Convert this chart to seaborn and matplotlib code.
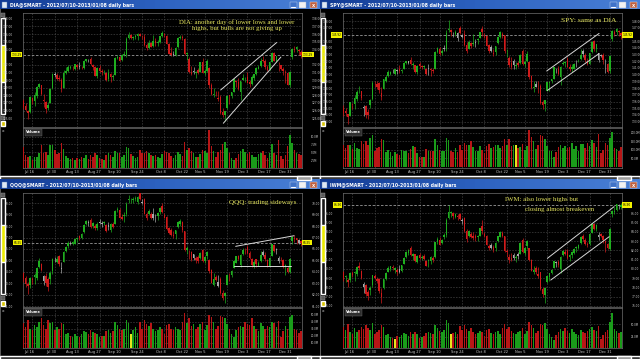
import numpy as np
import pandas as pd
import matplotlib
matplotlib.use("Agg")
import matplotlib.pyplot as plt
import seaborn as sns
from matplotlib.patches import Rectangle
from matplotlib.colors import LinearSegmentedColormap
from matplotlib.transforms import blended_transform_factory as blend

# ---------------- data (daily bars, 2012-07-10 .. 2013-01-08) ----------------
date_labels = ["Jul 16", "Jul 30", "Aug 13", "Aug 27", "Sep 10", "Sep 24", "Oct 8",
               "Oct 22", "Nov 5", "Nov 19", "Dec 3", "Dec 17", "Dec 31"]
date_index = [4, 14, 24, 34, 43, 53, 63, 73, 81, 91, 100, 110, 119]

dia_open = [127.2, 126.6, 125.9, 125.8, 127.6, 127.3, 127.9, 129.1, 129.3, 127.4,
            127.1, 126.3, 127.0, 128.9, 130.7, 130.6, 130.2, 130.0, 129.0, 130.9,
            131.2, 131.6, 131.7, 131.5, 132.0, 131.8, 131.7, 131.6, 132.5, 132.7,
            132.8, 132.0, 131.7, 130.5, 131.6, 131.2, 131.0, 130.9, 130.1, 130.8,
            130.4, 130.6, 132.9, 133.0, 132.6, 133.3, 133.3, 135.5, 135.9, 135.5,
            135.6, 135.7, 136.0, 135.6, 135.6, 134.6, 134.2, 134.8, 134.4, 135.1,
            134.8, 135.0, 135.8, 136.0, 135.8, 134.7, 133.5, 133.3, 133.3, 134.3,
            135.5, 135.5, 135.4, 133.4, 132.8, 131.1, 131.2, 130.9, 131.3, 131.1,
            132.4, 130.9, 131.2, 131.6, 129.3, 128.1, 128.2, 127.6, 127.8, 125.8,
            125.4, 126.3, 127.9, 127.9, 128.4, 129.9, 129.7, 128.4, 130.0, 130.2,
            130.4, 129.7, 129.5, 130.2, 130.8, 131.5, 131.8, 132.6, 132.5, 131.7,
            131.4, 132.4, 133.5, 132.5, 132.0, 131.9, 131.5, 131.1, 130.9, 129.3,
            133.0, 134.1, 134.0, 133.9, 133.7]
dia_high = [127.5, 127.0, 126.1, 127.9, 127.8, 128.4, 129.2, 129.6, 129.4, 128.2,
            127.2, 127.1, 129.0, 130.9, 131.0, 130.9, 130.7, 130.3, 131.3, 131.7,
            132.0, 131.9, 131.8, 132.1, 132.1, 132.3, 131.8, 132.6, 132.8, 132.8,
            133.0, 132.1, 131.8, 131.7, 131.9, 131.4, 131.3, 131.0, 131.4, 130.9,
            130.8, 133.0, 133.3, 133.2, 133.4, 133.8, 135.6, 136.3, 136.0, 135.8,
            136.0, 136.1, 136.2, 135.9, 136.0, 134.8, 135.2, 135.0, 135.9, 135.5,
            135.2, 135.8, 136.4, 136.1, 135.9, 134.8, 134.3, 133.8, 134.3, 135.6,
            135.9, 135.9, 135.5, 133.6, 133.0, 131.8, 131.7, 131.2, 131.6, 132.4,
            132.9, 131.4, 132.7, 131.7, 129.6, 128.9, 128.6, 128.6, 128.1, 126.3,
            126.0, 128.0, 128.0, 128.5, 130.1, 130.0, 130.2, 129.9, 130.8, 130.4,
            131.0, 130.0, 130.6, 130.8, 131.7, 131.9, 132.9, 133.1, 132.7, 131.9,
            132.4, 133.7, 133.6, 133.2, 132.4, 132.0, 131.7, 131.3, 131.0, 131.2,
            134.2, 134.4, 134.4, 134.1, 133.9]
dia_low = [126.2, 125.9, 124.9, 125.7, 126.9, 126.6, 127.7, 128.9, 128.1, 126.5,
           125.7, 126.1, 127.0, 128.8, 130.4, 130.0, 129.9, 128.4, 129.0, 130.8,
           131.1, 131.4, 131.3, 131.3, 131.4, 131.4, 131.4, 131.5, 132.4, 132.3,
           131.9, 131.3, 130.5, 130.3, 131.1, 130.6, 130.8, 129.9, 129.9, 129.8,
           130.0, 130.6, 132.7, 132.5, 132.5, 133.1, 133.0, 135.4, 135.3, 135.2,
           135.4, 135.2, 135.7, 135.3, 134.5, 133.9, 134.1, 134.3, 134.3, 134.4,
           134.5, 134.9, 135.6, 135.6, 134.7, 133.4, 133.2, 133.1, 133.1, 134.2,
           135.3, 135.2, 133.3, 132.6, 130.9, 130.7, 130.8, 130.2, 130.8, 131.0,
           130.9, 130.6, 131.1, 128.9, 128.1, 127.8, 127.9, 127.3, 125.6, 125.2,
           124.6, 126.2, 126.9, 127.7, 128.4, 129.1, 128.7, 127.4, 130.0, 129.7,
           129.6, 129.1, 129.3, 130.0, 130.7, 131.4, 131.7, 132.3, 131.4, 131.2,
           131.3, 132.3, 132.5, 132.3, 131.2, 131.3, 130.7, 129.6, 129.3, 129.1,
           132.8, 133.6, 133.6, 133.3, 132.9]
dia_close = [126.53, 126.04, 125.73, 127.77, 127.27, 128.06, 129.08, 129.43, 128.23, 127.21,
             126.18, 126.76, 128.87, 130.75, 130.73, 130.09, 130.08, 128.78, 130.96, 131.18,
             131.69, 131.75, 131.65, 132.07, 131.69, 131.72, 131.64, 132.50, 132.75, 132.71,
             132.03, 131.72, 130.57, 131.57, 131.24, 131.02, 131.07, 130.00, 130.90, 130.35,
             130.47, 132.92, 133.06, 132.54, 133.23, 133.33, 135.39, 135.93, 135.53, 135.65,
             135.77, 135.96, 135.79, 135.58, 134.57, 134.13, 134.85, 134.37, 135.15, 134.82,
             134.95, 135.75, 136.10, 135.83, 134.73, 133.45, 133.26, 133.29, 134.24, 135.51,
             135.57, 135.48, 133.44, 133.46, 131.03, 130.78, 131.04, 131.08, 130.96, 132.32,
             130.93, 131.13, 132.46, 129.33, 128.11, 128.15, 128.14, 127.57, 125.71, 125.43,
             125.89, 127.96, 127.89, 128.37, 130.10, 129.68, 128.78, 129.85, 130.22, 130.26,
             129.66, 129.52, 130.35, 130.75, 131.55, 131.70, 132.49, 132.45, 131.70, 131.35,
             132.36, 133.51, 132.52, 133.12, 131.90, 131.39, 131.14, 130.96, 129.38, 131.04,
             134.12, 133.91, 134.35, 133.84, 133.29]
dia_volume = [6.8, 4.2, 3.5, 3.8, 2.6, 3.6, 3.4, 4.6, 7.3, 4.7,
              5.2, 4.2, 7.3, 7.3, 5.7, 4.3, 4.9, 7.9, 6.0, 3.9,
              3.2, 2.8, 3.0, 2.6, 3.3, 2.8, 3.5, 3.1, 4.1, 2.9,
              4.2, 3.4, 4.6, 4.1, 3.3, 2.7, 2.6, 4.1, 4.7, 4.1,
              3.5, 5.5, 4.6, 4.8, 3.6, 4.0, 6.6, 6.5, 4.5, 3.7,
              3.2, 3.5, 5.7, 4.8, 4.7, 5.3, 4.7, 4.2, 3.7, 4.1,
              3.4, 3.0, 4.4, 5.5, 5.0, 4.9, 3.9, 3.2, 4.2, 5.2,
              4.4, 3.8, 8.4, 5.6, 6.4, 5.5, 4.7, 3.6, 3.6, 4.4,
              5.8, 5.3, 4.9, 12.2, 7.1, 5.3, 3.6, 5.1, 5.8, 7.8,
              8.4, 6.3, 4.6, 3.0, 2.4, 3.2, 4.3, 5.5, 6.1, 5.0,
              4.4, 5.2, 4.1, 3.4, 3.5, 4.3, 4.8, 5.5, 4.2, 3.3,
              4.6, 7.6, 4.9, 4.0, 9.0, 3.7, 2.8, 4.1, 7.0, 10.5,
              8.0, 5.8, 4.6, 4.5, 4.0]

spy_open = [135.1, 134.6, 134.1, 133.9, 135.6, 135.7, 136.4, 137.8, 137.5, 135.0,
            135.3, 134.4, 135.5, 136.4, 138.8, 138.6, 138.8, 137.2, 137.9, 139.0,
            139.8, 140.1, 140.5, 140.1, 140.6, 140.8, 140.6, 140.9, 141.8, 141.8,
            142.2, 141.4, 141.4, 140.4, 141.6, 141.2, 141.2, 140.9, 140.9, 140.8,
            140.6, 140.9, 143.4, 143.9, 143.3, 144.0, 143.8, 146.6, 146.6, 146.0,
            146.1, 145.4, 146.9, 145.6, 146.1, 144.4, 143.9, 144.7, 144.6, 144.9,
            145.1, 145.4, 146.8, 145.9, 145.8, 144.4, 144.1, 143.3, 143.4, 144.7,
            145.6, 146.1, 145.9, 143.5, 142.5, 141.7, 142.0, 141.3, 141.8, 141.7,
            143.6, 141.6, 142.1, 141.9, 139.8, 138.0, 138.6, 137.7, 138.3, 135.9,
            135.6, 137.6, 138.8, 139.0, 139.4, 140.8, 140.9, 139.7, 141.6, 141.8,
            142.3, 141.2, 140.9, 140.9, 142.1, 142.0, 142.3, 143.5, 143.0, 142.1,
            141.6, 143.4, 145.0, 143.8, 142.2, 142.8, 143.0, 142.0, 141.6, 140.6,
            145.3, 146.4, 146.3, 146.5, 146.2]
spy_high = [135.5, 135.0, 134.2, 136.0, 135.8, 136.9, 137.7, 138.3, 137.6, 135.5,
            135.5, 134.9, 136.4, 139.0, 139.1, 139.0, 138.9, 138.2, 139.4, 139.9,
            140.7, 140.6, 140.8, 140.8, 140.9, 141.4, 140.9, 141.9, 142.1, 142.1,
            142.6, 141.9, 141.5, 141.5, 141.9, 141.5, 141.5, 141.0, 141.6, 141.0,
            141.0, 143.5, 144.2, 144.1, 143.8, 144.4, 146.6, 148.1, 146.8, 146.4,
            146.6, 146.4, 147.2, 146.1, 146.7, 144.8, 145.2, 144.9, 146.0, 145.3,
            145.5, 146.4, 147.3, 146.2, 145.9, 144.6, 144.5, 143.9, 144.3, 145.8,
            146.5, 146.4, 145.9, 143.8, 142.8, 142.6, 142.4, 141.9, 142.1, 143.1,
            143.8, 142.2, 143.5, 142.0, 140.0, 139.1, 139.0, 139.0, 138.6, 136.3,
            136.3, 138.9, 139.0, 139.4, 141.1, 141.0, 141.3, 141.3, 142.1, 142.1,
            142.6, 141.6, 141.6, 141.7, 142.2, 142.4, 143.9, 143.8, 143.3, 142.5,
            143.3, 145.0, 145.1, 144.6, 143.2, 143.1, 143.2, 142.3, 141.8, 142.9,
            146.6, 146.6, 146.9, 146.6, 146.3]
spy_low = [133.9, 133.9, 132.6, 133.8, 134.9, 134.9, 136.1, 137.3, 136.3, 133.8,
           133.6, 133.4, 135.1, 136.2, 138.2, 137.9, 137.3, 136.2, 137.8, 138.9,
           139.7, 139.9, 140.2, 140.0, 140.1, 140.3, 140.3, 140.8, 141.6, 141.6,
           141.4, 140.9, 140.3, 140.1, 141.0, 140.9, 140.9, 140.0, 139.9, 139.8,
           140.2, 140.8, 143.3, 143.0, 143.0, 143.6, 143.5, 146.3, 145.8, 145.6,
           145.8, 145.0, 146.1, 145.4, 144.3, 143.2, 143.8, 144.0, 144.3, 144.1,
           144.6, 145.4, 145.8, 145.5, 144.3, 143.3, 143.4, 142.8, 142.9, 144.6,
           145.4, 145.4, 143.3, 142.7, 141.1, 140.8, 140.8, 140.8, 141.1, 141.6,
           141.5, 141.2, 141.9, 139.3, 137.9, 137.4, 138.1, 137.3, 135.7, 134.9,
           134.6, 137.5, 137.6, 138.7, 139.4, 140.2, 140.0, 138.5, 141.4, 141.1,
           141.1, 140.6, 140.4, 140.8, 141.2, 141.9, 142.2, 142.7, 141.9, 141.5,
           141.6, 143.3, 143.6, 143.4, 141.9, 142.6, 141.6, 140.2, 140.3, 140.3,
           145.0, 145.7, 145.9, 145.8, 145.3]
spy_close = [134.35, 134.34, 133.68, 135.88, 135.56, 136.57, 137.48, 137.85, 136.47, 135.25,
             134.03, 133.99, 136.20, 138.80, 138.73, 138.13, 137.73, 136.70, 139.30, 139.62,
             140.34, 140.42, 140.48, 140.79, 140.61, 140.59, 140.75, 141.75, 142.02, 142.01,
             141.52, 141.55, 140.41, 141.31, 141.24, 141.13, 141.25, 140.15, 140.86, 140.69,
             140.54, 143.41, 143.99, 143.11, 143.56, 143.86, 146.20, 146.78, 146.32, 146.13,
             146.31, 146.23, 146.22, 145.89, 144.36, 143.53, 144.92, 144.27, 144.65, 144.78,
             145.30, 146.34, 146.29, 145.79, 144.35, 143.46, 143.48, 143.06, 144.21, 145.69,
             146.29, 145.93, 143.52, 143.58, 141.51, 141.08, 141.50, 141.50, 141.42, 142.96,
             141.62, 141.93, 143.04, 139.65, 137.95, 138.19, 138.20, 137.65, 135.75, 135.53,
             136.19, 138.89, 138.98, 139.30, 141.12, 140.83, 140.09, 141.19, 141.80, 141.82,
             141.15, 140.91, 141.13, 141.59, 142.01, 142.06, 142.98, 143.05, 142.15, 141.56,
             143.24, 144.88, 143.78, 144.57, 143.22, 142.87, 142.18, 142.01, 140.44, 142.82,
             146.44, 146.14, 146.85, 146.39, 145.92]
spy_volume = [130, 110, 130, 125, 105, 140, 110, 105, 150, 135,
              150, 130, 170, 185, 95, 110, 115, 165, 155, 85,
              100, 85, 65, 85, 75, 70, 100, 95, 95, 80,
              105, 120, 115, 80, 55, 60, 55, 105, 95, 90,
              95, 165, 125, 100, 90, 95, 170, 160, 90, 85,
              110, 85, 130, 100, 140, 125, 130, 150, 115, 95,
              95, 120, 100, 80, 120, 135, 110, 115, 130, 125,
              110, 120, 165, 130, 165, 120, 125, 130, 110, 115,
              135, 100, 120, 215, 175, 150, 105, 130, 185, 180,
              165, 120, 95, 90, 55, 85, 115, 125, 110, 120,
              110, 115, 140, 105, 120, 90, 135, 135, 110, 140,
              120, 160, 140, 115, 190, 80, 100, 140, 130, 170,
              205, 110, 105, 90, 115]

qqq_open = [63.85, 63.45, 62.90, 62.80, 63.40, 63.55, 63.45, 64.40, 64.70, 63.15,
            63.60, 63.40, 63.40, 64.10, 65.00, 64.90, 65.40, 64.20, 64.90, 65.85,
            66.25, 66.45, 66.45, 66.45, 66.85, 67.10, 66.95, 67.45, 68.20, 68.30,
            68.55, 68.00, 68.05, 67.80, 68.40, 68.20, 68.30, 68.10, 68.10, 67.70,
            68.15, 68.20, 69.40, 69.40, 68.80, 68.85, 69.05, 70.30, 70.25, 70.25,
            70.35, 70.15, 70.90, 70.05, 70.40, 69.05, 69.10, 69.05, 69.05, 68.90,
            68.90, 69.20, 69.75, 69.00, 68.80, 67.80, 67.65, 67.20, 67.30, 67.95,
            68.20, 68.35, 67.55, 65.95, 65.40, 65.70, 65.55, 65.20, 65.30, 65.25,
            65.95, 64.95, 65.40, 65.05, 64.15, 62.80, 63.55, 62.75, 63.40, 62.15,
            61.85, 62.85, 63.75, 63.70, 64.35, 64.80, 65.35, 64.60, 65.60, 65.85,
            66.20, 65.65, 65.15, 64.45, 65.10, 64.50, 64.95, 65.75, 65.45, 65.00,
            64.55, 65.40, 66.35, 65.95, 64.95, 65.05, 65.00, 64.50, 64.35, 63.95,
            66.70, 66.95, 66.95, 66.55, 66.70]
qqq_high = [63.95, 63.65, 63.10, 63.55, 63.55, 63.90, 64.40, 65.20, 64.75, 63.75,
            63.85, 63.50, 64.10, 65.20, 65.30, 65.35, 65.45, 64.90, 65.85, 66.25,
            66.70, 66.70, 66.70, 66.90, 67.05, 67.25, 67.40, 68.20, 68.50, 68.50,
            68.75, 68.35, 68.15, 68.35, 68.60, 68.45, 68.45, 68.15, 68.35, 68.25,
            68.35, 69.40, 69.70, 69.55, 69.10, 69.20, 70.15, 70.75, 70.45, 70.55,
            70.65, 70.60, 70.95, 70.35, 70.50, 69.25, 69.50, 69.20, 69.55, 69.10,
            69.25, 69.70, 70.00, 69.15, 68.85, 67.90, 67.80, 67.55, 67.70, 68.45,
            68.60, 68.45, 67.60, 66.30, 65.90, 65.85, 65.60, 65.40, 65.45, 65.70,
            66.00, 65.40, 65.85, 65.10, 64.25, 63.85, 63.70, 63.75, 63.50, 62.40,
            62.25, 63.80, 63.90, 64.15, 65.00, 65.40, 65.50, 65.55, 66.05, 66.05,
            66.35, 65.85, 65.25, 65.05, 65.10, 64.95, 65.80, 65.95, 65.70, 65.15,
            65.30, 66.45, 66.45, 66.05, 65.35, 65.30, 65.10, 64.70, 64.55, 65.20,
            67.15, 67.20, 67.00, 66.85, 66.80]
qqq_low = [63.10, 62.70, 62.05, 62.60, 62.95, 62.90, 63.30, 64.30, 64.05, 62.80,
           62.75, 62.30, 62.95, 63.80, 64.85, 64.80, 64.50, 63.90, 64.85, 65.75,
           66.10, 66.35, 66.35, 66.40, 66.65, 66.75, 66.85, 67.40, 68.10, 68.05,
           67.85, 67.85, 67.70, 67.65, 68.15, 67.95, 68.10, 67.50, 67.65, 67.45,
           67.85, 68.15, 69.25, 68.70, 68.55, 68.35, 68.85, 70.05, 70.05, 70.05,
           70.20, 69.95, 70.30, 69.90, 69.05, 68.50, 68.95, 68.60, 68.55, 68.35,
           68.55, 69.05, 69.15, 68.70, 67.70, 67.30, 67.15, 66.95, 66.90, 67.80,
           68.05, 67.50, 65.85, 65.55, 65.15, 64.95, 65.00, 64.75, 64.80, 65.15,
           64.90, 64.80, 65.15, 63.90, 63.00, 62.75, 63.15, 62.70, 62.05, 61.50,
           61.25, 62.80, 63.20, 63.55, 64.30, 64.75, 65.00, 64.40, 65.50, 65.55,
           65.60, 65.10, 64.40, 64.35, 64.45, 64.50, 64.90, 65.40, 64.95, 64.40,
           64.50, 65.35, 65.75, 65.55, 64.80, 64.95, 64.30, 63.70, 63.90, 63.90,
           66.45, 66.65, 66.45, 66.40, 66.25]
qqq_close = [63.40, 62.95, 62.75, 63.45, 63.30, 63.75, 64.30, 64.95, 64.15, 63.60,
             63.05, 62.70, 63.90, 65.10, 65.05, 65.10, 64.70, 64.30, 65.75, 66.15,
             66.55, 66.50, 66.60, 66.85, 67.00, 66.95, 67.30, 68.10, 68.45, 68.40,
             67.90, 68.25, 67.85, 68.20, 68.30, 68.25, 68.30, 67.60, 67.95, 68.15,
             67.90, 69.35, 69.50, 68.75, 68.65, 68.95, 69.90, 70.30, 70.30, 70.40,
             70.50, 70.55, 70.40, 70.10, 69.10, 68.70, 69.35, 68.70, 68.75, 68.85,
             69.15, 69.60, 69.25, 68.75, 67.75, 67.40, 67.20, 67.10, 67.65, 68.40,
             68.45, 67.65, 65.95, 66.10, 65.35, 65.05, 65.25, 65.05, 64.95, 65.65,
             64.95, 65.30, 65.70, 64.05, 63.05, 63.35, 63.30, 63.10, 62.10, 61.70,
             62.10, 63.75, 63.70, 64.05, 64.95, 65.35, 65.10, 65.45, 65.95, 65.80,
             65.65, 65.20, 64.60, 64.90, 64.65, 64.80, 65.45, 65.50, 65.10, 64.45,
             65.25, 66.40, 65.80, 65.90, 65.20, 65.00, 64.55, 64.60, 64.00, 65.10,
             67.05, 66.90, 66.80, 66.75, 66.55]
qqq_volume = [38, 33, 42, 30, 28, 35, 32, 40, 45, 35,
              30, 42, 38, 40, 28, 32, 30, 38, 36, 22,
              24, 20, 18, 22, 20, 18, 22, 26, 25, 22,
              28, 25, 24, 22, 18, 20, 19, 26, 28, 24,
              27, 40, 35, 30, 28, 30, 42, 38, 22, 28,
              32, 24, 40, 30, 42, 36, 34, 38, 30, 26,
              28, 32, 30, 22, 35, 36, 30, 28, 32, 30,
              28, 40, 52, 38, 45, 34, 36, 30, 33, 36,
              40, 28, 35, 50, 46, 40, 30, 34, 48, 47,
              45, 36, 30, 22, 18, 28, 32, 34, 32, 40,
              36, 35, 45, 34, 30, 26, 38, 34, 30, 34,
              32, 40, 38, 33, 41, 18, 26, 34, 30, 47,
              50, 30, 28, 24, 26]

iwm_open = [79.60, 79.10, 78.80, 78.75, 79.50, 79.55, 79.40, 80.25, 79.80, 78.00,
            78.30, 77.45, 77.70, 78.20, 79.25, 78.95, 78.95, 77.40, 77.90, 78.90,
            79.65, 79.95, 80.15, 79.85, 79.90, 79.95, 79.75, 80.55, 81.25, 81.70,
            82.20, 81.40, 81.55, 80.75, 81.50, 81.15, 81.35, 80.85, 80.80, 80.85,
            81.20, 81.25, 82.90, 83.15, 82.80, 83.40, 83.65, 85.50, 86.00, 86.00,
            85.65, 85.75, 85.95, 85.15, 85.45, 84.05, 83.60, 83.80, 83.55, 83.50,
            83.45, 83.60, 84.60, 83.80, 83.55, 82.50, 82.55, 82.35, 82.20, 83.05,
            83.45, 83.85, 83.50, 81.85, 81.30, 81.20, 81.45, 81.15, 81.60, 81.65,
            83.15, 81.70, 82.45, 82.20, 80.90, 79.60, 80.05, 79.45, 79.60, 77.85,
            77.20, 78.55, 79.10, 79.55, 80.10, 80.65, 80.75, 80.00, 81.45, 81.85,
            81.90, 81.25, 81.50, 81.70, 82.25, 82.25, 82.75, 83.55, 83.10, 82.65,
            82.70, 83.90, 84.85, 84.30, 83.40, 83.75, 83.55, 83.00, 82.65, 82.15,
            85.90, 86.15, 86.40, 86.80, 86.70]
iwm_high = [79.75, 79.35, 79.05, 79.65, 79.75, 79.80, 80.25, 80.70, 79.85, 78.55,
            78.40, 77.70, 78.10, 79.35, 79.45, 79.10, 79.00, 77.95, 78.95, 79.65,
            80.30, 80.35, 80.40, 80.15, 80.05, 80.40, 80.45, 81.25, 81.90, 82.10,
            82.45, 81.75, 81.65, 81.45, 81.75, 81.45, 81.55, 80.90, 81.10, 81.35,
            81.40, 82.95, 83.40, 83.40, 83.25, 83.85, 85.45, 86.85, 86.30, 86.10,
            86.05, 85.95, 86.05, 85.45, 85.55, 84.25, 84.20, 84.00, 84.00, 83.75,
            83.65, 84.45, 85.25, 83.95, 83.65, 82.70, 82.80, 82.60, 82.85, 83.55,
            84.10, 84.05, 83.55, 82.10, 81.55, 81.75, 81.75, 81.50, 81.80, 82.85,
            83.30, 82.40, 83.10, 82.25, 81.05, 80.35, 80.25, 80.20, 79.70, 78.00,
            78.00, 79.25, 79.55, 80.00, 80.85, 80.80, 80.95, 81.35, 82.00, 82.10,
            82.15, 81.60, 81.95, 82.25, 82.45, 82.70, 83.60, 83.75, 83.35, 82.95,
            83.85, 84.90, 84.95, 84.80, 83.95, 83.90, 83.70, 83.15, 82.80, 84.40,
            86.35, 86.65, 87.05, 87.00, 87.10]
iwm_low = [78.70, 78.60, 78.00, 78.60, 79.10, 78.70, 79.20, 79.90, 78.95, 77.40,
           77.05, 76.60, 77.20, 78.05, 78.90, 78.45, 77.40, 76.35, 77.85, 78.80,
           79.60, 79.80, 79.90, 79.50, 79.30, 79.50, 79.70, 80.50, 81.15, 81.45,
           81.35, 81.00, 80.70, 80.60, 81.10, 80.95, 80.95, 80.25, 80.20, 80.50,
           80.75, 81.20, 82.70, 82.55, 82.65, 83.20, 83.40, 85.35, 85.60, 85.40,
           85.45, 85.30, 85.30, 84.85, 84.00, 82.95, 83.45, 83.30, 83.10, 83.00,
           83.00, 83.55, 83.75, 83.45, 82.55, 82.05, 82.15, 81.85, 81.95, 82.95,
           83.40, 83.40, 81.80, 81.30, 80.60, 80.85, 80.95, 80.70, 81.05, 81.60,
           81.70, 81.50, 82.15, 80.80, 79.75, 79.40, 79.45, 79.05, 77.75, 77.00,
           76.35, 78.45, 78.70, 79.40, 80.05, 80.20, 80.20, 79.55, 81.40, 81.45,
           81.10, 80.85, 81.20, 81.55, 81.80, 82.10, 82.70, 83.00, 82.55, 82.40,
           82.60, 83.85, 84.20, 84.05, 83.10, 83.45, 82.75, 81.80, 82.10, 82.05,
           85.60, 85.95, 86.20, 86.50, 86.45]
iwm_close = [78.95, 79.15, 78.60, 79.55, 79.35, 79.60, 80.15, 80.05, 79.00, 78.35,
             77.25, 77.10, 77.90, 79.30, 79.00, 78.70, 77.55, 77.00, 78.85, 79.50,
             80.05, 80.25, 80.05, 80.05, 79.60, 79.70, 80.40, 81.20, 81.85, 82.00,
             81.45, 81.60, 80.80, 81.35, 81.20, 81.30, 81.05, 80.35, 80.95, 81.25,
             80.95, 82.90, 83.25, 82.60, 83.15, 83.70, 85.25, 86.10, 86.10, 85.70,
             85.90, 85.55, 85.40, 85.30, 84.05, 83.25, 84.05, 83.40, 83.35, 83.30,
             83.55, 84.40, 84.05, 83.60, 82.60, 82.20, 82.30, 82.00, 82.80, 83.50,
             84.00, 83.60, 81.90, 81.80, 81.00, 80.90, 81.20, 81.30, 81.40, 82.80,
             81.80, 82.30, 83.00, 80.90, 79.80, 79.90, 79.60, 79.20, 77.80, 77.30,
             77.90, 79.20, 79.50, 79.90, 80.80, 80.70, 80.40, 81.30, 81.90, 81.60,
             81.20, 81.50, 81.80, 82.10, 82.30, 82.60, 83.40, 83.20, 82.70, 82.60,
             83.80, 84.80, 84.30, 84.70, 83.70, 83.50, 83.10, 82.80, 82.20, 84.30,
             86.20, 86.30, 87.00, 86.80, 86.90]
iwm_volume = [45, 38, 50, 35, 30, 42, 35, 38, 45, 40,
              48, 42, 38, 52, 30, 35, 38, 48, 45, 28,
              30, 25, 22, 20, 26, 24, 28, 32, 30, 26,
              34, 30, 34, 30, 22, 24, 26, 32, 35, 32,
              30, 48, 42, 36, 34, 38, 58, 52, 30, 32,
              34, 30, 46, 38, 48, 40, 36, 42, 34, 30,
              32, 36, 34, 26, 38, 40, 32, 30, 34, 36,
              30, 42, 50, 40, 44, 36, 32, 30, 34, 36,
              42, 30, 36, 55, 48, 42, 32, 36, 50, 48,
              52, 40, 30, 24, 18, 28, 34, 40, 36, 42,
              36, 32, 40, 34, 30, 28, 38, 34, 32, 36,
              40, 44, 38, 36, 46, 20, 28, 34, 38, 55,
              72, 40, 36, 32, 34]

# trend lines drawn on the charts: (day, price) end points
dia_lines = [[(88.1, 128.7), (113.1, 134.9)], [(89.3, 124.35), (115.0, 133.0)]]
spy_lines = [[(90.8, 140.55), (114.2, 146.15)], [(91.1, 137.65), (114.2, 143.15)]]
qqq_lines = [[(94.8, 66.23), (120.9, 67.16)], [(94.1, 64.49), (119.4, 64.49)]]
iwm_lines = [[(91.1, 81.13), (120.9, 86.72)], [(92.6, 78.78), (118.7, 83.47)]]

dia_note = "DIA: another day of lower lows and lower\nhighs, but bulls are not giving up"
spy_note = "SPY: same as DIA"
qqq_note = "QQQ: trading sideways"
iwm_note = ["IWM: also lower highs but", "closing almost breakeven"]

# ---------------- style ----------------
W, H = 640, 359
GREEN, RED, GREY = "#1fae1f", "#d01a1a", "#a8a8a8"
VOL_PAL = {"up": "#1a9c1a", "down": "#b81616", "flat": "#e6e61e"}
LABEL = "#c8c8c8"
NOTE = "#e8e860"
GRID = "#484848"
TICK_FS = 2.1
VOL_FS = 1.9

sns.set_theme(style="dark", rc={
    "figure.facecolor": "black", "axes.facecolor": "black",
    "axes.edgecolor": "#707070", "axes.linewidth": 0.5,
    "text.color": LABEL, "xtick.color": LABEL, "ytick.color": LABEL,
})
plt.rcParams["font.family"] = ["DejaVu Sans"]

fig = plt.figure(figsize=(6.4, 3.59), dpi=100, facecolor="black")
bg = fig.add_axes([0, 0, 1, 1])
bg.set_facecolor("black")
bg.axis("off")

title_cmap = LinearSegmentedColormap.from_list("tb", ["#123a94", "#2d62c0", "#4a80d6"])


def box(x, y, w, h):
    return [x / W, 1 - (y + h) / H, w / W, h / H]


def chrome(px, py, title):
    bg.add_patch(Rectangle((px, py), 320, 180, fc="black", ec="#6a6a6a", lw=0.6, zorder=0))
    bg.imshow(np.linspace(0, 1, 64)[None, :], cmap=title_cmap, aspect="auto",
              extent=(px, px + 320, py + 9.5, py), zorder=1)
    bg.add_patch(Rectangle((px + 1.5, py + 1.8), 5.5, 6, fc="#dfe8f4", ec="#5a7fb8", lw=0.3, zorder=2))
    bg.text(px + 10, py + 5, title, color="white", fontsize=3.3, fontweight="bold",
            va="center", ha="left", zorder=3)
    bg.add_patch(Rectangle((px + 289.5, py + 2.2), 7.5, 6, fc="#3f72c8", ec="#c8d8f0", lw=0.3, zorder=2))
    bg.plot([px + 291, px + 294.5], [py + 6.8, py + 6.8], color="white", lw=0.8, zorder=3)
    bg.add_patch(Rectangle((px + 299, py + 2.2), 6.5, 6, fc="#f2f2f2", ec="#9ab0d0", lw=0.3, zorder=2))
    bg.add_patch(Rectangle((px + 310, py + 2.2), 7, 6, fc="#c0603e", ec="#e8e8e8", lw=0.3, zorder=2))
    bg.text(px + 313.5, py + 5.2, "x", color="white", fontsize=3.5, fontweight="bold",
            ha="center", va="center", zorder=3)
    # left tool strip
    bg.add_patch(Rectangle((px + 0.8, py + 12.5), 4.2, 4.2, fc="#5a5a5a", ec="#9a9a9a", lw=0.3, zorder=2))
    bg.add_patch(Rectangle((px + 0.8, py + 18), 4.2, 96, fc="#141414", zorder=1))
    bg.add_patch(Rectangle((px + 0.8, py + 45), 4.2, 37, fc="#eaea00", zorder=2))
    bg.add_patch(Rectangle((px + 0.8, py + 115.5), 4.2, 4, fc="#5a5a5a", ec="#9a9a9a", lw=0.3, zorder=2))
    bg.add_patch(Rectangle((px + 0.8, py + 120.8), 4.2, 5, fc="#d8c400", zorder=2))
    bg.text(px + 2.9, py + 131.5, "x", color="#d0d0d0", fontsize=3.2, ha="center", va="center")
    # bottom scroll strip
    bg.add_patch(Rectangle((px, py + 175.5), 320, 4.5, fc="#3a3a3a", zorder=1))
    bg.add_patch(Rectangle((px + 297, py + 175.8), 14, 4, fc="#9c9c9c", zorder=2))


def price_label(ax, value, side):
    tr = blend(ax.transAxes, ax.transData)
    xpos, ha = (-0.004, "right") if side == "left" else (1.004, "left")
    ax.text(xpos, value, f"{value:.2f}", transform=tr, ha=ha, va="center", fontsize=TICK_FS,
            color="black", clip_on=False, zorder=5,
            bbox=dict(boxstyle="square,pad=0.2", fc="#f2f200", ec="none"))


def panel(px, py, sym, op, hi, lo, cl, vol, ylim, yticks, vlim, vticks, vlabels, lines):
    chrome(px, py, f"{sym}@SMART - 2012/07/10-2013/01/08 daily bars")
    op, hi, lo, cl, vol = map(np.asarray, (op, hi, lo, cl, vol))
    n = len(cl)
    x = np.arange(n)
    prev = np.r_[op[0], cl[:-1]]
    up = cl >= op
    gain = cl >= prev
    colors = np.where(up & gain, GREEN, np.where(~up & ~gain, RED, GREY))

    # price pane
    axp = fig.add_axes(box(px + 22.7, py + 12.7, 279, 114))
    axp.set_facecolor("black")
    axp.vlines(x, np.minimum(lo, np.minimum(op, cl)), np.maximum(hi, np.maximum(op, cl)),
               colors=colors, lw=0.5, zorder=3)
    body = np.maximum(np.abs(cl - op), (ylim[1] - ylim[0]) * 0.006)
    axp.bar(x, body, bottom=np.minimum(op, cl), width=0.7, color=colors, linewidth=0, zorder=4)
    axp.set_xlim(-0.3, n - 0.7)
    axp.set_ylim(*ylim)
    last = cl[-1]
    span = ylim[1] - ylim[0]
    shown = [t for t in yticks if abs(t - last) > span * 0.035]
    axp.set_yticks(shown, [f"{t:.2f}" for t in shown])
    axp.set_xticks(date_index, [""] * len(date_index))
    axp.tick_params(axis="y", which="both", left=False, right=False, labelleft=True,
                    labelright=True, labelsize=TICK_FS, pad=0.9, colors=LABEL)
    axp.tick_params(axis="x", bottom=False, labelbottom=False)
    axp.grid(True, color=GRID, lw=0.45, linestyle=(0, (2.5, 2)))
    axp.axhline(last, color="#9a9a9a", lw=0.6, linestyle=(0, (3, 2)), zorder=2)
    price_label(axp, last, "left")
    price_label(axp, last, "right")
    for (x0, y0), (x1, y1) in lines:
        axp.plot([x0, x1], [y0, y1], color="#d8d8d8", lw=0.7, zorder=5)
    for s in axp.spines.values():
        s.set_color("#707070")
        s.set_linewidth(0.5)

    # volume pane
    tone = np.where(cl > prev, "up", np.where(cl < prev, "down", "flat"))
    tone[0] = "up" if cl[0] >= op[0] else "down"
    vdf = pd.DataFrame({"day": x, "vol": vol, "tone": tone})
    axv = fig.add_axes(box(px + 22.7, py + 128.3, 279, 40))
    axv.set_facecolor("black")
    sns.barplot(data=vdf, x="day", y="vol", hue="tone", palette=VOL_PAL, native_scale=True,
                dodge=False, legend=False, errorbar=None, width=0.7, saturation=1,
                linewidth=0, ax=axv, zorder=3)
    axv.set_xlim(-0.3, n - 0.7)
    axv.set_ylim(*vlim)
    axv.set_xlabel("")
    axv.set_ylabel("")
    axv.set_yticks(vticks, vlabels)
    axv.set_xticks(date_index, [""] * len(date_index))
    axv.tick_params(axis="y", left=False, right=False, labelleft=False, labelright=True,
                    labelsize=VOL_FS, pad=0.7, colors=LABEL)
    axv.tick_params(axis="x", bottom=False, labelbottom=False)
    axv.grid(True, color=GRID, lw=0.45, linestyle=(0, (2.5, 2)))
    for s in axv.spines.values():
        s.set_color("#707070")
        s.set_linewidth(0.5)
    axv.text(0.012, 0.9, "Volume", transform=axv.transAxes, fontsize=2.6, color="white",
             fontweight="bold", va="center", ha="left", zorder=6,
             bbox=dict(boxstyle="square,pad=0.35", fc="#2e2e2e", ec="#6a6a6a", lw=0.3))
    tr = blend(axv.transData, axv.transAxes)
    for d, lab in zip(date_index, date_labels):
        axv.text(d + 0.6, -0.1, lab, transform=tr, ha="right", va="center",
                 fontsize=2.6, color=LABEL, clip_on=False)
    return axp


def note(x, y, text, size, ha="center"):
    fig.text(x / W, 1 - y / H, text, ha=ha, va="center", fontsize=size, color=NOTE,
             family=["Liberation Serif", "DejaVu Serif"], linespacing=1.15, zorder=10)


panel(0, 0, "DIA", dia_open, dia_high, dia_low, dia_close, dia_volume,
      (123.9, 138.8), range(125, 139), (-0.17, 12.7), [2.5, 5, 7.5, 10],
      ["2.5M", "5.0M", "7.5M", "10.0M"], dia_lines)
panel(320, 0, "SPY", spy_open, spy_high, spy_low, spy_close, spy_volume,
      (132.25, 149.24), range(133, 149), (-8.6, 225.6), [50, 100, 150, 200],
      ["50.0M", "100.0M", "150.0M", "200.0M"], spy_lines)
panel(0, 180, "QQQ", qqq_open, qqq_high, qqq_low, qqq_close, qqq_volume,
      (60.94, 70.93), range(61, 71), (2, 59), [10, 20, 30, 40, 50],
      ["10.0M", "20.0M", "30.0M", "40.0M", "50.0M"], qqq_lines)
panel(320, 180, "IWM", iwm_open, iwm_high, iwm_low, iwm_close, iwm_volume,
      (75.9, 88.23), range(76, 88), (1.6, 82.3), [25, 50],
      ["25.0M", "50.0M"], iwm_lines)

note(237, 25, dia_note, 4.9)
note(588.5, 21, spy_note, 5.4)
note(262.5, 202.7, qqq_note, 5.1)
note(505, 199.3, iwm_note[0], 4.9, ha="left")
note(525, 209.3, iwm_note[1], 4.9, ha="left")

bg.set_xlim(0, W)
bg.set_ylim(H, 0)
fig.savefig("out.png", dpi=100, facecolor="black")
